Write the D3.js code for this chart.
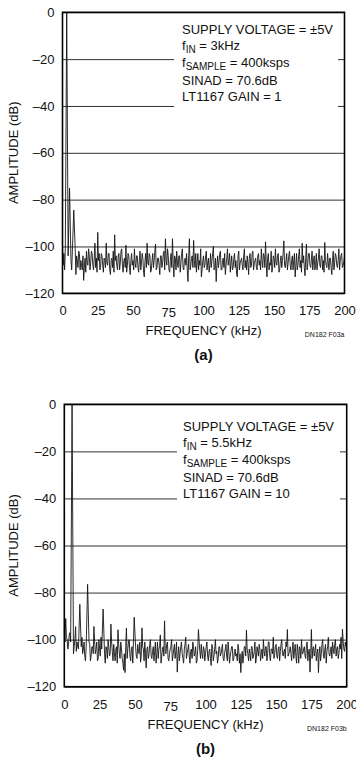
<!DOCTYPE html>
<html>
<head>
<meta charset="utf-8">
<script src="https://cdn.jsdelivr.net/npm/d3@7"></script>
<style>
  html, body { margin: 0; padding: 0; background: #fff; }
  svg { display: block; }
  text { font-family: "Liberation Sans Narrow", "Liberation Sans", Arial, sans-serif; fill: #111; }
</style>
</head>
<body>
<div class="chart"></div>
<script>
// FFT spectra, amplitude in dB
// noiseX: values at 0, 1, 2 ... 200 kHz; noiseX2: values at 0.5, 1.5 ... 199.5 kHz
const noiseA = [
  -100, -103, -101, -104, -104, -102, -106, -102, -105, -101,
  -104, -109, -103, -106, -110, -114.5, -105, -102, -108, -104,
  -107, -103, -110, -98.6, -105, -94, -103, -109, -104, -111,
  -106, -98.6, -108, -103, -112, -105, -102, -95, -104, -110,
  -103, -107, -101, -111, -105, -99.5, -108, -104, -112, -103,
  -106, -101, -109, -104, -111, -102, -107, -105, -113, -103,
  -98.6, -108, -104, -110, -103, -106, -99, -109, -105, -112,
  -104, -107, -102, -96.7, -108, -104, -111, -103, -96.7, -113,
  -105, -102, -109, -104, -107, -101, -110, -105, -103, -115,
  -96.7, -108, -104, -97.4, -109, -111, -103, -106, -101, -110,
  -104, -108, -102, -107, -111, -103, -106, -100, -109, -115,
  -104, -107, -102, -110, -105, -103, -108, -101, -106, -111,
  -104, -109, -103, -106, -113, -102, -107, -105, -110, -101,
  -106, -104, -112, -103, -108, -102, -107, -105, -110, -103,
  -106, -101, -109, -104, -98, -113, -103, -107, -102, -109,
  -105, -101, -108, -103, -110, -104, -106, -97.6, -109, -103,
  -107, -102, -110, -104, -106, -113, -103, -108, -101, -106,
  -98.6, -104, -112.5, -99, -107, -103, -109, -102, -106, -110,
  -103, -107, -101, -109, -104, -106, -98.3, -108, -103, -110,
  -105, -112, -102, -107, -104, -109, -101, -106, -103, -108,
  -104
];
const noiseA2 = [
  -108, -110, -106, -109, -111, -107, -110, -108, -109, -112,
  -106, -102, -110, -108, -104, -109, -111, -107, -101, -110,
  -102, -108, -105, -109, -111, -106, -110, -103, -108, -105,
  -109, -107, -103, -110, -106, -109, -111, -106, -108, -104,
  -110, -102, -108, -106, -109, -111, -103, -109, -106, -108,
  -110, -107, -104, -109, -106, -110, -103, -111, -106, -109,
  -107, -103, -111, -106, -109, -102, -110, -105, -108, -104,
  -109, -103, -110, -106, -101, -110, -106, -109, -107, -104,
  -110, -107, -104, -111, -103, -109, -106, -108, -110, -104,
  -110, -105, -109, -106, -103, -107, -110, -108, -113, -106,
  -109, -104, -110, -105, -108, -109, -103, -110, -105, -108,
  -109, -103, -110, -106, -109, -112, -105, -108, -103, -107,
  -110, -105, -109, -112, -104, -110, -106, -108, -104, -109,
  -110, -107, -105, -109, -103, -110, -106, -109, -104, -108,
  -110, -106, -103, -109, -107, -105, -110, -108, -111, -104,
  -109, -107, -104, -111, -106, -109, -103, -108, -106, -110,
  -104, -108, -106, -110, -103, -108, -110, -104, -109, -111,
  -107, -109, -105, -110, -103, -108, -106, -110, -104, -108,
  -110, -105, -108, -104, -110, -111, -106, -109, -107, -105,
  -109, -106, -110, -103, -108, -106, -110, -104, -109, -107
];
// fundamental and harmonics: [kHz, dB]
const spursA = [[3, 0], [5, -75], [8, -84.5]];

const noiseB = [
  -96, -91, -100, -102, -97, -99, -99, -103, -94.5, -101,
  -104, -108.6, -103, -106, -101, -109, -100, -105, -102, -107,
  -103, -94.4, -106, -101, -108, -104, -99, -105, -102, -110,
  -104, -100, -107, -93.4, -105, -102, -109, -103, -95.8, -106,
  -101, -108, -113, -114, -95.1, -104, -100, -109, -103, -105,
  -99, -107, -102, -106, -109.6, -95, -104, -101, -112, -103,
  -106, -100, -108, -103, -105, -110, -101, -104, -98, -107,
  -103, -92, -106, -101, -109, -104, -100, -107, -102, -105,
  -113.8, -103, -106, -101, -108, -104, -99, -106, -102, -110,
  -104, -101, -107, -103, -109, -95.7, -105, -102, -108, -104,
  -106, -101, -109, -104, -111, -103, -107, -100, -105, -108,
  -103, -106, -102, -109, -104, -107, -101, -110, -105, -103,
  -108, -104, -106, -102, -110, -114, -105, -107, -103, -96,
  -106, -104, -109, -103, -107, -101, -108, -105, -102, -109,
  -104, -100, -107, -103, -106, -101, -109, -104, -99, -106,
  -102, -108, -103, -105, -100, -107, -104, -101, -95.7, -106,
  -103, -109, -101, -105, -107, -102, -110, -104, -100, -106,
  -103, -108, -101, -105, -113.8, -95.7, -104, -107, -102, -106,
  -114, -103, -106, -100, -108, -102, -105, -99, -107, -103,
  -101, -106, -100, -104, -108, -102, -99, -95.5, -104, -101,
  -103
];
const noiseB2 = [
  -101, -99, -104, -98, -101, -104, -106, -100, -105, -103,
  -100, -105, -99, -104, -107, -103, -106, -101, -109, -103,
  -106, -101, -104, -109, -100, -107, -104, -108, -106, -103,
  -108, -103, -106, -101, -109, -106, -104, -110, -102, -108,
  -104, -110, -106, -103, -108, -101, -107, -104, -110, -106,
  -103, -108, -105, -101, -107, -103, -109, -106, -104, -108,
  -102, -107, -105, -109, -101, -106, -108, -103, -110, -104,
  -107, -105, -102, -108, -106, -103, -109, -104, -108, -101,
  -107, -109, -103, -106, -110, -102, -108, -104, -107, -105,
  -108, -103, -106, -110, -104, -101, -108, -106, -103, -109,
  -103, -107, -105, -108, -102, -109, -104, -106, -110, -103,
  -107, -104, -108, -106, -102, -109, -105, -107, -103, -109,
  -105, -107, -109, -104, -106, -108, -110, -103, -107, -104,
  -109, -106, -103, -108, -105, -110, -103, -107, -104, -106,
  -108, -105, -103, -109, -101, -107, -104, -106, -108, -103,
  -107, -104, -109, -102, -106, -105, -108, -103, -107, -105,
  -106, -104, -108, -102, -110, -105, -103, -108, -106, -104,
  -107, -102, -109, -104, -106, -108, -103, -105, -109, -104,
  -106, -109, -102, -107, -104, -110, -103, -106, -105, -108,
  -104, -102, -107, -103, -106, -104, -108, -101, -105, -103
];
const spursB = [[5.5, 0], [11, -85], [16.5, -76.5], [27.5, -87], [49.5, -90.5]];

const xTicks = [0, 25, 50, 75, 100, 125, 150, 175, 200];
const yTicks = [0, -20, -40, -60, -80, -100, -120];

const notesA = [
  ["SUPPLY VOLTAGE = \u00b15V"],
  ["f", "IN", " = 3kHz"],
  ["f", "SAMPLE", " = 400ksps"],
  ["SINAD = 70.6dB"],
  ["LT1167 GAIN = 1"]
];
const notesB = [
  ["SUPPLY VOLTAGE = \u00b15V"],
  ["f", "IN", " = 5.5kHz"],
  ["f", "SAMPLE", " = 400ksps"],
  ["SINAD = 70.6dB"],
  ["LT1167 GAIN = 10"]
];

const W = 356, H = 761;
const svg = d3.select(".chart").append("svg")
  .attr("width", W)
  .attr("height", H);

function buildSeries(noise, noise2, spurs) {
  let pts = [];
  noise.forEach((v, i) => pts.push([i, v]));
  noise2.forEach((v, i) => pts.push([i + 0.5, v]));
  pts = pts.filter(p => !spurs.some(s => Math.abs(s[0] - p[0]) < 0.6));
  spurs.forEach(s => pts.push(s));
  pts.sort((a, b) => a[0] - b[0]);
  return pts;
}

function drawPanel(p) {
  let g = svg.append("g");

  let x = d3.scaleLinear().domain([0, 200]).range([p.left, p.right]);
  let y = d3.scaleLinear().domain([0, -120]).range([p.top, p.bottom]);

  // horizontal gridlines + y labels
  let yAxis = d3.axisLeft(y)
    .tickValues(yTicks)
    .tickSize(-(p.right - p.left))
    .tickPadding(8)
    .tickFormat(d => d === 0 ? "0" : "\u2013" + Math.abs(d));

  let yGroup = g.append("g")
    .attr("transform", "translate(" + p.left + ",0)")
    .call(yAxis);
  yGroup.select(".domain").remove();
  yGroup.selectAll(".tick line").attr("stroke", "#333").attr("stroke-width", 1);
  yGroup.selectAll(".tick text")
    .attr("font-size", 13)
    .attr("fill", "#111")
    .style("font-family", '"Liberation Sans Narrow", "Liberation Sans", Arial, sans-serif');

  // x labels only, no tick marks
  let xAxis = d3.axisBottom(x)
    .tickValues(xTicks)
    .tickSize(0)
    .tickPadding(11)
    .tickFormat(d3.format("d"));

  let xGroup = g.append("g")
    .attr("transform", "translate(0," + p.bottom + ")")
    .call(xAxis);
  xGroup.select(".domain").remove();
  xGroup.selectAll(".tick text")
    .attr("font-size", 13)
    .attr("fill", "#111")
    .attr("dy", d => d === 75 ? "1.0em" : "0.85em")
    .style("font-family", '"Liberation Sans Narrow", "Liberation Sans", Arial, sans-serif');

  // spectrum
  let line = d3.line()
    .x(d => x(d[0]))
    .y(d => y(d[1]));

  g.append("path")
    .datum(buildSeries(p.noise, p.noise2, p.spurs))
    .attr("fill", "none")
    .attr("stroke", "#151515")
    .attr("stroke-width", 0.9)
    .attr("d", line);

  // annotation box (covers gridlines)
  g.append("rect")
    .attr("x", p.noteLeft)
    .attr("y", p.top + 6)
    .attr("width", p.noteRight - p.noteLeft)
    .attr("height", 92)
    .attr("fill", "#fff");

  let notes = g.append("text")
    .attr("font-size", 13);
  p.notes.forEach(function (n, i) {
    notes.append("tspan")
      .attr("x", p.noteX)
      .attr("y", p.top + p.noteY[i])
      .text(n[0]);
    if (n.length > 1) {
      notes.append("tspan").attr("font-size", 10).attr("dy", 3).text(n[1]);
      notes.append("tspan").attr("dy", -3).text(n[2]);
    }
  });

  // frame
  g.append("rect")
    .attr("x", p.left)
    .attr("y", p.top)
    .attr("width", p.right - p.left)
    .attr("height", p.bottom - p.top)
    .attr("fill", "none")
    .attr("stroke", "#000")
    .attr("stroke-width", 1.6);

  // titles
  g.append("text")
    .attr("transform", "translate(18," + ((p.top + p.bottom) / 2) + ") rotate(-90)")
    .attr("text-anchor", "middle")
    .attr("font-size", 13)
    .text("AMPLITUDE (dB)");

  g.append("text")
    .attr("x", (p.left + p.right) / 2)
    .attr("y", p.bottom + 42)
    .attr("text-anchor", "middle")
    .attr("font-size", 13)
    .text("FREQUENCY (kHz)");

  g.append("text")
    .attr("x", p.right)
    .attr("y", p.bottom + 44)
    .attr("text-anchor", "end")
    .attr("font-size", 7)
    .text(p.code);

  g.append("text")
    .attr("x", (p.left + p.right) / 2)
    .attr("y", p.bottom + 67)
    .attr("text-anchor", "middle")
    .attr("font-size", 15)
    .attr("font-weight", "bold")
    .text(p.label);
}

drawPanel({
  left: 62.5, right: 344.5, top: 12.3, bottom: 293.3,
  noise: noiseA, noise2: noiseA2, spurs: spursA, notes: notesA,
  noteLeft: 174, noteRight: 338, noteX: 182,
  noteY: [22, 38, 55, 72.5, 89],
  code: "DN182 F03a", label: "(a)"
});

drawPanel({
  left: 64.3, right: 346.7, top: 404.3, bottom: 686.7,
  noise: noiseB, noise2: noiseB2, spurs: spursB, notes: notesB,
  noteLeft: 177, noteRight: 340, noteX: 183,
  noteY: [26.5, 42.5, 59.5, 77.5, 94],
  code: "DN182 F03b", label: "(b)"
});
</script>
</body>
</html>
